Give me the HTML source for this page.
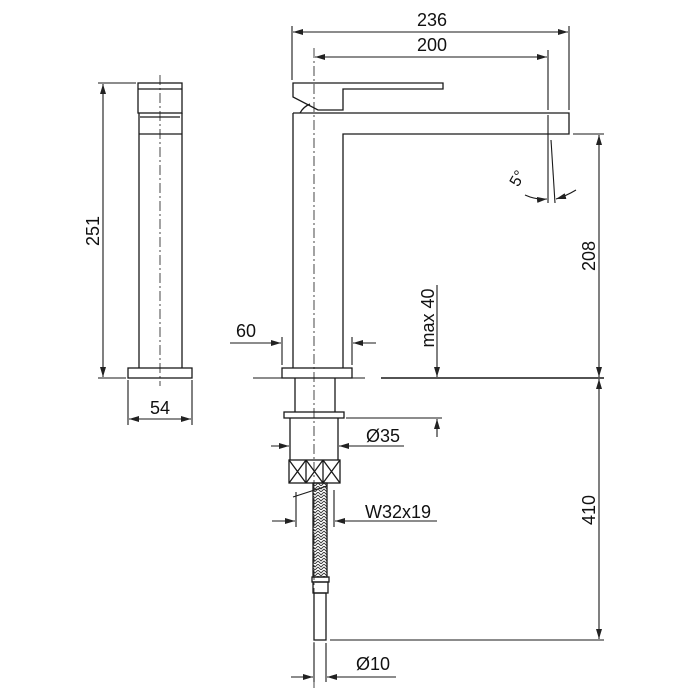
<!DOCTYPE html>
<html><head><meta charset="utf-8"><style>html,body{margin:0;padding:0;background:#fff}svg{display:block}</style></head>
<body>
<svg width="700" height="700" viewBox="0 0 700 700" xmlns="http://www.w3.org/2000/svg" font-family="Liberation Sans, sans-serif" font-size="18" fill="none" stroke="#1a1a1a" stroke-width="1.1">
<defs>
<marker id="a" viewBox="0 0 10 6" refX="10" refY="3" markerWidth="10" markerHeight="6" orient="auto-start-reverse" markerUnits="userSpaceOnUse"><path d="M0,0L10,3L0,6z" fill="#222" stroke="none"/></marker>
<pattern id="br" width="6" height="6" patternUnits="userSpaceOnUse"><path d="M0,0L3,3L6,0M0,3L3,6L6,3" stroke="#333" stroke-width="0.9"/></pattern>
</defs>
<g stroke-width="1.3">
<rect x="138" y="83" width="44" height="30"/>
<line x1="138" y1="89" x2="182" y2="89"/>
<line x1="140" y1="117" x2="180" y2="117"/>
<line x1="139" y1="113" x2="139" y2="368"/><line x1="182" y1="113" x2="182" y2="368"/>
<line x1="139" y1="134" x2="182" y2="134"/>
<rect x="128" y="368" width="64" height="10"/>
</g>
<line x1="160" y1="75" x2="160" y2="386" stroke-dasharray="10,3,2,3" stroke-width="0.8"/>
<line x1="98" y1="83" x2="136" y2="83"/><line x1="98" y1="378" x2="126" y2="378"/>
<line x1="103" y1="84" x2="103" y2="377" marker-start="url(#a)" marker-end="url(#a)"/>
<line x1="128" y1="380" x2="128" y2="425"/><line x1="192" y1="380" x2="192" y2="425"/>
<line x1="129" y1="419" x2="191" y2="419" marker-start="url(#a)" marker-end="url(#a)"/>
<g stroke-width="1.3">
<path d="M293,83H443V89H343V110H318L293,97Z"/>
<path d="M300,113A20,20 0 0 1 310,104"/>
<path d="M293,113H569V134H343V368M293,113V368"/>
<rect x="282" y="368" width="70" height="10"/>
<path d="M295,378V412M335,378V412"/>
<rect x="284" y="412" width="60" height="6"/>
<path d="M290,418V460M338,418V460"/>
<rect x="289" y="460" width="51" height="23"/>
<path d="M306,460V483M323,460V483M289,460L306,483M306,460L289,483M306,460L323,483M323,460L306,483M323,460L340,483M340,460L323,483"/>
<rect x="313" y="483" width="14" height="94" fill="url(#br)"/>
<rect x="312" y="577" width="17" height="5"/>
<rect x="313" y="582" width="15" height="11"/>
<rect x="314" y="593" width="12" height="47"/>
</g>
<line x1="314" y1="48" x2="314" y2="690" stroke-dasharray="10,3,2,3" stroke-width="0.8"/>
<line x1="292" y1="26" x2="292" y2="80"/><line x1="569" y1="26" x2="569" y2="110"/>
<line x1="293" y1="32" x2="568" y2="32" marker-start="url(#a)" marker-end="url(#a)"/>
<line x1="548" y1="50" x2="548" y2="110"/>
<line x1="315" y1="57" x2="547" y2="57" marker-start="url(#a)" marker-end="url(#a)"/>
<line x1="548" y1="115" x2="548" y2="203"/><line x1="551" y1="140" x2="555" y2="203"/>
<path d="M525,195Q536,200 547,199" marker-end="url(#a)"/>
<path d="M576,190Q566,196 556,199" marker-end="url(#a)"/>
<line x1="573" y1="134" x2="604" y2="134"/>
<line x1="599" y1="135" x2="599" y2="377" marker-start="url(#a)" marker-end="url(#a)"/>
<line x1="599" y1="379" x2="599" y2="639" marker-start="url(#a)" marker-end="url(#a)"/>
<line x1="330" y1="640" x2="604" y2="640"/>
<line x1="253" y1="378" x2="365" y2="378"/><line x1="381" y1="378" x2="604" y2="378" stroke-width="1.4"/>
<line x1="437" y1="285" x2="437" y2="377" marker-end="url(#a)"/>
<line x1="437" y1="437" x2="437" y2="419" marker-end="url(#a)"/>
<line x1="346" y1="418" x2="442" y2="418"/>
<line x1="282" y1="337" x2="282" y2="365"/><line x1="352" y1="337" x2="352" y2="365"/>
<line x1="230" y1="343" x2="281" y2="343" marker-end="url(#a)"/>
<line x1="376" y1="343" x2="353" y2="343" marker-end="url(#a)"/>
<line x1="271" y1="446" x2="289" y2="446" marker-end="url(#a)"/>
<line x1="404" y1="446" x2="339" y2="446" marker-end="url(#a)"/>
<line x1="296" y1="492" x2="296" y2="527"/><line x1="334" y1="490" x2="334" y2="527"/>
<line x1="293" y1="497" x2="327" y2="486"/>
<line x1="272" y1="521" x2="295" y2="521" marker-end="url(#a)"/>
<line x1="437" y1="521" x2="335" y2="521" marker-end="url(#a)"/>
<line x1="314" y1="643" x2="314" y2="682"/><line x1="326" y1="643" x2="326" y2="682"/>
<line x1="291" y1="677" x2="313" y2="677" marker-end="url(#a)"/>
<line x1="396" y1="677" x2="327" y2="677" marker-end="url(#a)"/>
<g fill="#111" stroke="none">
<text x="432" y="26" text-anchor="middle">236</text>
<text x="432" y="51" text-anchor="middle">200</text>
<text x="160" y="414" text-anchor="middle">54</text>
<text transform="translate(99,231) rotate(-90)" text-anchor="middle">251</text>
<text x="246" y="337" text-anchor="middle">60</text>
<text transform="translate(434,318) rotate(-90)" text-anchor="middle">max 40</text>
<text x="383" y="442" text-anchor="middle">Ø35</text>
<text x="398" y="518" text-anchor="middle">W32x19</text>
<text x="373" y="670" text-anchor="middle">Ø10</text>
<text transform="translate(595,256) rotate(-90)" text-anchor="middle">208</text>
<text transform="translate(595,510) rotate(-90)" text-anchor="middle">410</text>
<text transform="translate(522,181) rotate(-60)" text-anchor="middle" font-size="16">5°</text>
</g>
</svg>
</body></html>
